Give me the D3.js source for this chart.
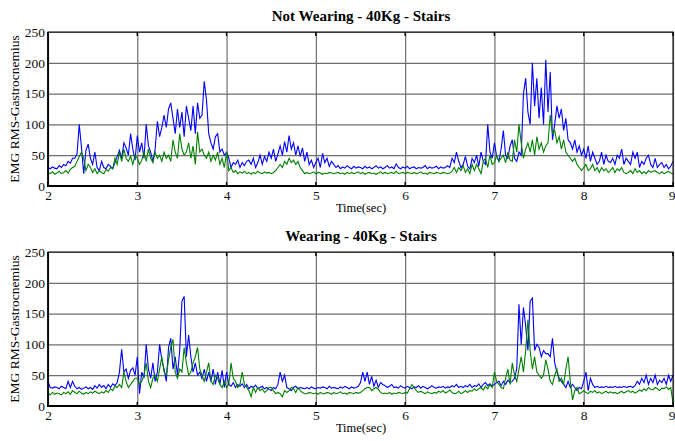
<!DOCTYPE html>
<html>
<head>
<meta charset="utf-8">
<script src="https://cdn.jsdelivr.net/npm/d3@7/dist/d3.min.js"></script>
<style>
  body { margin: 0; background: #fff; }
  text { font-family: "Liberation Serif", "Times New Roman", serif; }
</style>
</head>
<body>
<svg id="chart" width="675" height="441"></svg>
<script>
// samples every 0.025 s, from 2 s to 9 s
var tStart = 2, tStep = 0.025;
var xTicks = [2, 3, 4, 5, 6, 7, 8, 9];
var yTicks = [0, 50, 100, 150, 200, 250];
var titles = ["Not Wearing - 40Kg - Stairs", "Wearing - 40Kg - Stairs"];

// Not Wearing, blue
var notWearBlue = [
  30,28,31,29, 28,33,30,35, 33,40,37,45, 45,52,100,62, 20,58,68,45,
  35,55,30,25, 40,30,28,35, 32,28,38,48, 58,45,70,62, 50,85,60,42,
  82,55,70,45, 100,65,55,40, 60,105,80,95, 115,95,125,135, 110,85,125,95,
  120,80,130,110, 90,130,85,135, 110,115,170,140, 85,70,60,80, 85,55,60,50,
  55,45,30,38, 35,42,30,38, 33,40,42,35, 45,30,38,50, 35,48,40,55,
  45,60,40,52, 65,50,72,55, 82,60,70,50, 65,48,62,40, 55,35,42,30,
  38,45,30,53, 38,45,32,40, 35,30,33,28, 31,29,33,30, 28,32,29,31,
  30,28,32,29, 31,28,30,33, 29,31,28,30, 33,29,31,28, 36,30,28,31,
  29,32,28,30, 31,28,30,29, 30,33,28,31, 29,30,32,28, 31,29,30,33,
  30,45,38,55, 40,30,35,48, 32,28,45,38, 50,32,55,40, 35,100,55,45,
  70,48,40,60, 90,50,45,65, 75,45,40,55, 50,150,175,120, 100,200,130,175,
  110,160,100,205, 120,185,75,100, 130,110,125,90, 110,75,70,60, 75,55,65,50,
  60,45,65,40, 55,45,35,40, 55,35,50,40, 38,45,35,50, 45,60,35,45,
  40,35,55,45, 55,30,40,35, 45,50,35,30, 45,30,35,38, 30,35,28,32,
  40
];
// Not Wearing, green
var notWearGreen = [
  22,20,23,19, 21,24,20,22, 25,21,27,30, 32,40,48,55, 45,25,35,30,
  22,28,20,25, 22,20,27,24, 30,28,45,35, 55,40,60,45, 40,48,35,50,
  45,35,42,55, 40,60,45,38, 55,45,50,40, 55,45,50,40, 75,55,45,85,
  60,50,55,70, 45,65,35,88, 55,60,50,45, 55,40,50,42, 55,35,45,30,
  55,25,30,22, 25,20,23,21, 24,20,22,19, 22,20,24,21, 20,23,21,22,
  20,22,25,30, 35,30,40,35, 45,38,42,35, 40,30,25,20, 22,20,21,23,
  20,22,21,19, 21,20,22,21, 20,21,22,20, 21,19,22,20, 22,20,21,23,
  20,22,19,21, 22,20,21,19, 21,23,20,22, 20,21,22,20, 24,20,21,22,
  20,22,21,20, 22,20,21,23, 20,21,19,22, 21,20,22,21, 20,22,21,20,
  21,24,30,22, 30,25,33,22, 28,20,35,25, 35,28,20,40, 45,30,50,35,
  38,50,40,45, 50,38,55,42, 40,75,55,100, 70,45,60,70, 55,75,50,80,
  60,70,55,65, 70,115,85,90, 70,80,60,75, 55,50,45,40, 45,35,30,25,
  30,35,25,28, 35,25,30,22, 30,25,28,22, 25,30,22,28, 25,30,22,20,
  22,25,20,28, 22,25,20,23, 20,25,22,24, 25,22,20,23, 20,22,24,21,
  20
];
// Wearing, blue
var wearBlue = [
  40,30,29,31, 30,28,32,30, 28,40,30,40, 32,28,30,27, 29,31,28,30,
  27,33,29,35, 30,33,28,35, 30,36,33,38, 55,92,55,60, 45,58,62,50,
  80,20,55,45, 100,60,45,70, 40,55,100,75, 60,40,95,110, 60,80,50,90,
  170,178,80,115, 80,55,70,50, 55,45,60,40, 55,40,60,35, 55,35,58,30,
  55,35,32,38, 30,35,32,36, 30,35,28,32, 30,34,28,30, 32,28,30,27,
  25,30,28,35, 55,40,50,30, 28,25,30,32, 28,30,29,28, 30,28,31,29,
  28,30,29,31, 30,28,32,29, 30,29,28,31, 29,32,30,28, 31,29,30,32,
  38,55,40,55, 35,48,32,42, 30,38,35,33, 30,32,35,30, 31,29,33,30,
  29,32,30,28, 31,30,33,29, 32,30,28,30, 33,30,29,31, 30,32,29,31,
  30,33,31,35, 30,32,30,33, 31,35,30,33, 32,36,30,35, 38,33,36,32,
  35,38,40,33, 40,35,42,38, 40,45,60,165, 100,160,130,90, 170,175,90,100,
  95,80,90,85, 85,80,110,70, 55,45,40,35, 30,40,30,35, 30,25,30,28,
  40,55,25,45, 35,30,32,30, 31,30,32,30, 31,30,32,30, 31,30,32,30,
  31,32,30,33, 40,35,45,38, 50,35,45,38, 50,35,42,38, 45,35,50,40,
  50
];
// Wearing, green
var wearGreen = [
  20,18,22,19, 21,20,18,22, 20,23,19,25, 22,20,24,21, 19,22,20,23,
  21,24,22,20, 23,21,25,22, 28,25,32,30, 35,30,55,40, 30,35,40,45,
  45,35,40,50, 70,40,30,45, 50,40,60,80, 55,50,75,95, 108,55,45,60,
  55,95,70,50, 55,70,80,95, 60,50,40,55, 70,40,35,50, 45,35,30,40,
  30,35,70,45, 40,30,35,55, 35,30,25,15, 30,22,30,25, 28,22,25,30,
  30,25,20,22, 20,15,25,22, 25,30,28,22, 30,25,22,20, 20,22,21,20,
  21,19,22,20, 20,22,21,19, 22,20,21,23, 20,21,19,22, 21,20,22,21,
  22,25,28,30, 30,25,28,30, 27,22,20,21, 20,22,19,21, 20,22,21,20,
  22,21,28,35, 30,25,22,24, 22,20,23,21, 20,22,21,24, 22,25,21,23,
  26,22,20,21, 24,20,22,25, 22,25,24,28, 25,28,30,26, 32,28,35,30,
  55,40,35,30, 28,45,60,35, 70,50,40,60, 80,55,90,140, 90,60,80,55,
  50,45,50,75, 60,40,35,50, 60,40,45,35, 60,80,40,10, 25,30,20,22,
  25,22,20,24, 22,25,21,23, 20,22,24,21, 23,21,22,20, 22,24,21,23,
  25,22,24,21, 23,26,24,28, 25,30,27,26, 30,28,25,29, 28,31,27,30,
  5
];

var svg = d3.select("#chart");
var x = d3.scaleLinear().domain([2, 9]).range([48, 673]);

var panels = [
  { title: titles[0], top: 32, bottom: 186, blue: notWearBlue, green: notWearGreen },
  { title: titles[1], top: 252, bottom: 406, blue: wearBlue, green: wearGreen }
];

panels.forEach(function (p) {
  var y = d3.scaleLinear().domain([0, 250]).range([p.bottom, p.top]);
  var h = p.bottom - p.top;
  var g = svg.append("g");

  // vertical grid + x labels
  var xa = g.append("g")
    .attr("transform", "translate(0," + p.bottom + ")")
    .call(d3.axisBottom(x).tickValues(xTicks).tickSize(-h).tickPadding(4).tickFormat(d3.format("d")));
  xa.select(".domain").remove();
  xa.selectAll("line").attr("stroke", "#6e6e6e").attr("stroke-width", 1.2);
  xa.selectAll("text").attr("font-size", 13.5).attr("fill", "#111");
  // last label sits on the window edge
  xa.selectAll(".tick").filter(function (d) { return d === 9; })
    .select("text").attr("text-anchor", "end").attr("x", 2);

  // horizontal grid + y labels
  var ya = g.append("g")
    .attr("transform", "translate(48,0)")
    .call(d3.axisLeft(y).tickValues(yTicks).tickSize(-625).tickPadding(3));
  ya.select(".domain").remove();
  ya.selectAll("line").attr("stroke", "#6e6e6e").attr("stroke-width", 1.2);
  ya.selectAll("text").attr("font-size", 13.5).attr("fill", "#111");

  // series
  var line = d3.line()
    .x(function (d, i) { return x(tStart + i * tStep); })
    .y(function (d) { return y(d); });

  g.append("path").datum(p.blue)
    .attr("d", line).attr("fill", "none")
    .attr("stroke", "#0000ff").attr("stroke-width", 1.1);
  g.append("path").datum(p.green)
    .attr("d", line).attr("fill", "none")
    .attr("stroke", "#008000").attr("stroke-width", 1.1);

  // frame
  g.append("rect")
    .attr("x", 48).attr("y", p.top).attr("width", 625).attr("height", h)
    .attr("fill", "none").attr("stroke", "#000").attr("stroke-width", 1);
  g.append("line")
    .attr("x1", 47).attr("x2", 674).attr("y1", p.bottom).attr("y2", p.bottom)
    .attr("stroke", "#000").attr("stroke-width", 2.2);
  g.append("line")
    .attr("x1", 48).attr("x2", 48).attr("y1", p.top).attr("y2", p.bottom)
    .attr("stroke", "#000").attr("stroke-width", 1.6);

  // inner tick marks
  xTicks.forEach(function (t) {
    g.append("line").attr("x1", x(t)).attr("x2", x(t))
      .attr("y1", p.bottom).attr("y2", p.bottom - 4)
      .attr("stroke", "#000").attr("stroke-width", 1.4);
    g.append("line").attr("x1", x(t)).attr("x2", x(t))
      .attr("y1", p.top).attr("y2", p.top + 4)
      .attr("stroke", "#000").attr("stroke-width", 1.4);
  });

  // texts
  g.append("text")
    .attr("x", 361).attr("y", p.top - 11)
    .attr("text-anchor", "middle").attr("font-size", 15).attr("font-weight", "bold")
    .text(p.title);
  g.append("text")
    .attr("x", 361).attr("y", p.bottom + 26)
    .attr("text-anchor", "middle").attr("font-size", 12.5)
    .text("Time(sec)");
  g.append("text")
    .attr("transform", "translate(19," + (p.top + h / 2) + ") rotate(-90)")
    .attr("text-anchor", "middle").attr("font-size", 13.5)
    .text("EMG RMS-Gastrocnemius");
});
</script>
</body>
</html>
